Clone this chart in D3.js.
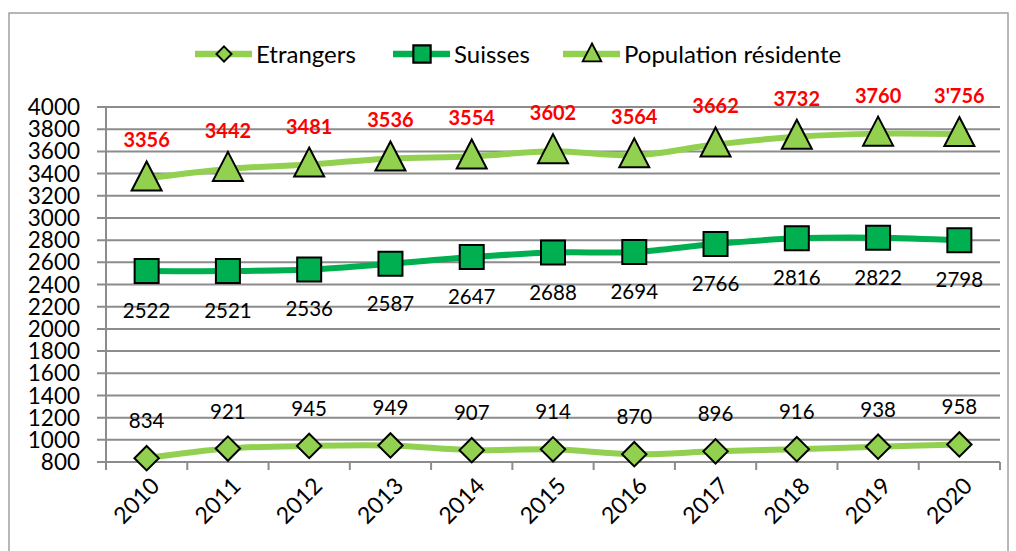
<!DOCTYPE html>
<html>
<head>
<meta charset="utf-8">
<script src="https://cdn.jsdelivr.net/npm/d3@7"></script>
<style>
  body { margin: 0; background: #fff; }
  text { font-family: Lato, "Open Sans", sans-serif; }
</style>
</head>
<body>
<div id="chart"></div>
<script>
// data
var years = ["2010", "2011", "2012", "2013", "2014", "2015", "2016", "2017", "2018", "2019", "2020"];
var etrangers = [834, 921, 945, 949, 907, 914, 870, 896, 916, 938, 958];
var suisses = [2522, 2521, 2536, 2587, 2647, 2688, 2694, 2766, 2816, 2822, 2798];
var population = [3356, 3442, 3481, 3536, 3554, 3602, 3564, 3662, 3732, 3760, 3756];
var populationLabels = ["3356", "3442", "3481", "3536", "3554", "3602", "3564", "3662", "3732", "3760", "3'756"];
var yTicks = [800, 1000, 1200, 1400, 1600, 1800, 2000, 2200, 2400, 2600, 2800, 3000, 3200, 3400, 3600, 3800, 4000];

var W = 1016, H = 551;
var plotLeft = 106, plotRight = 1000, plotTop = 107, plotBottom = 462;

var svg = d3.select("#chart").append("svg")
  .attr("width", W)
  .attr("height", H);

// outer chart border
svg.append("rect")
  .attr("x", 9).attr("y", 13)
  .attr("width", 999).attr("height", 560)
  .attr("fill", "none")
  .attr("stroke", "#a0a0a0")
  .attr("stroke-width", 1.5);

var x = d3.scaleBand().domain(years).range([plotLeft, plotRight]);
var y = d3.scaleLinear().domain([800, 4000]).range([plotBottom, plotTop]);
var cx = function (d, i) { return x(years[i]) + x.bandwidth() / 2; };

// gridlines
svg.append("g").selectAll("line")
  .data(yTicks)
  .join("line")
  .attr("x1", plotLeft - 9).attr("x2", plotRight)
  .attr("y1", function (d) { return y(d); })
  .attr("y2", function (d) { return y(d); })
  .attr("stroke", "#8c8c8c")
  .attr("stroke-width", 2);

// y axis line
svg.append("line")
  .attr("x1", plotLeft).attr("x2", plotLeft)
  .attr("y1", plotTop).attr("y2", plotBottom)
  .attr("stroke", "#8c8c8c").attr("stroke-width", 2);

// y tick labels
svg.append("g").selectAll("text")
  .data(yTicks)
  .join("text")
  .attr("x", plotLeft - 26)
  .attr("y", function (d) { return y(d); })
  .attr("dy", "0.36em")
  .attr("text-anchor", "end")
  .attr("font-size", 22.5)
  .attr("fill", "#000")
  .text(function (d) { return d; });

// x axis ticks at band boundaries
var bounds = years.map(function (d) { return x(d); }).concat([plotRight]);
svg.append("g").selectAll("line")
  .data(bounds)
  .join("line")
  .attr("x1", function (d) { return d; }).attr("x2", function (d) { return d; })
  .attr("y1", plotBottom).attr("y2", plotBottom + 8)
  .attr("stroke", "#8c8c8c").attr("stroke-width", 2);

// x tick labels
svg.append("g").selectAll("text")
  .data(years)
  .join("text")
  .attr("transform", function (d, i) { return "translate(" + (cx(d, i) + 3) + "," + (plotBottom + 14) + ") rotate(-45)"; })
  .attr("text-anchor", "end")
  .attr("dy", "0.7em")
  .attr("font-size", 23)
  .text(function (d) { return d; });

var line = d3.line()
  .x(function (d, i) { return cx(d, i); })
  .y(function (d) { return y(d); })
  .curve(d3.curveCatmullRom.alpha(0));

var series = [
  { name: "Etrangers", values: etrangers, color: "#92d050", marker: "diamond" },
  { name: "Suisses", values: suisses, color: "#00b050", marker: "square" },
  { name: "Population résidente", values: population, color: "#92d050", marker: "triangle" }
];

function markerPath(type) {
  if (type === "diamond") return d3.symbol().type(d3.symbolDiamond2).size(380)();
  if (type === "square") return "M-12,-12H12V12H-12Z";
  return "M0,-17L15,12H-15Z";
}

series.forEach(function (s) {
  svg.append("path")
    .datum(s.values)
    .attr("fill", "none")
    .attr("stroke", s.color)
    .attr("stroke-width", 6)
    .attr("d", line);

  svg.append("g").selectAll("path")
    .data(s.values)
    .join("path")
    .attr("transform", function (d, i) { return "translate(" + cx(d, i) + "," + y(d) + ")"; })
    .attr("d", markerPath(s.marker))
    .attr("fill", s.color)
    .attr("stroke", "#000")
    .attr("stroke-width", 2);
});

// data labels
svg.append("g").selectAll("text")
  .data(etrangers)
  .join("text")
  .attr("x", function (d, i) { return cx(d, i); })
  .attr("y", function (d) { return y(d) - 30; })
  .attr("text-anchor", "middle")
  .attr("font-size", 20.5)
  .text(function (d) { return d; });

svg.append("g").selectAll("text")
  .data(suisses)
  .join("text")
  .attr("x", function (d, i) { return cx(d, i); })
  .attr("y", function (d) { return y(d) + 47; })
  .attr("text-anchor", "middle")
  .attr("font-size", 20.5)
  .text(function (d) { return d; });

svg.append("g").selectAll("text")
  .data(population)
  .join("text")
  .attr("x", function (d, i) { return cx(d, i); })
  .attr("y", function (d) { return y(d) - 31; })
  .attr("text-anchor", "middle")
  .attr("font-size", 20)
  .attr("font-weight", "bold")
  .attr("fill", "#ff0000")
  .text(function (d, i) { return populationLabels[i]; });

// legend
var legendX = [195, 393, 563];
var legendScale = { diamond: 0.62, square: 0.72, triangle: 0.62 };
var legend = svg.append("g").selectAll("g")
  .data(series)
  .join("g")
  .attr("transform", function (d, i) { return "translate(" + legendX[i] + ",54)"; });

legend.append("line")
  .attr("x1", 0).attr("x2", 57)
  .attr("stroke", function (d) { return d.color; })
  .attr("stroke-width", 6.5);

legend.append("path")
  .attr("transform", function (d) { return "translate(29,0) scale(" + legendScale[d.marker] + ")"; })
  .attr("d", function (d) { return markerPath(d.marker); })
  .attr("fill", function (d) { return d.color; })
  .attr("stroke", "#000")
  .attr("stroke-width", 3);

legend.append("text")
  .attr("x", 61)
  .attr("dy", "0.36em")
  .attr("font-size", 24)
  .text(function (d) { return d.name; });
</script>
</body>
</html>
